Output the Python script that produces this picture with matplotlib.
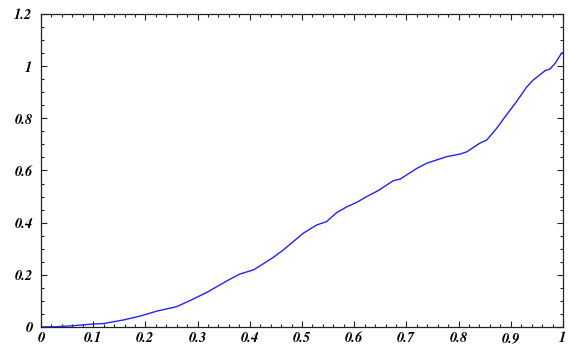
import numpy as np
import matplotlib.pyplot as plt
from matplotlib.ticker import MultipleLocator, FuncFormatter

# curve samples
xs = [0.0, 0.03, 0.062, 0.10, 0.119, 0.158, 0.19, 0.222, 0.26, 0.285, 0.317,
      0.359, 0.381, 0.407, 0.42, 0.445, 0.464, 0.483, 0.502, 0.528, 0.547,
      0.566, 0.586, 0.605, 0.624, 0.646, 0.675, 0.688, 0.72, 0.739, 0.777,
      0.803, 0.816, 0.84, 0.854, 0.873, 0.889, 0.911, 0.93, 0.943, 0.966,
      0.975, 0.985, 0.997, 1.0]
ys = [0.0, 0.001, 0.005, 0.0115, 0.013, 0.027, 0.042, 0.061, 0.078, 0.101, 0.132,
      0.18, 0.203, 0.219, 0.235, 0.267, 0.295, 0.327, 0.359, 0.391, 0.404,
      0.438, 0.461, 0.478, 0.50, 0.523, 0.561, 0.567, 0.608, 0.628, 0.653,
      0.663, 0.672, 0.704, 0.717, 0.762, 0.806, 0.864, 0.919, 0.947, 0.983,
      0.989, 1.011, 1.049, 1.052]

plt.rcParams['font.family'] = ['STIXGeneral', 'DejaVu Serif']
plt.rcParams['font.weight'] = 'bold'
plt.rcParams['font.style'] = 'italic'
plt.rcParams['font.size'] = 10.5

fig = plt.figure(figsize=(5.68, 3.44), dpi=100)
ax = fig.add_axes([41/568, 1 - 327/344, 522/568, 313/344])

ax.plot(xs, ys, '-', color='#2222ff', linewidth=1.0)

ax.set_xlim(0, 1)
ax.set_ylim(0, 1.2)
ax.xaxis.set_major_locator(MultipleLocator(0.1))
ax.xaxis.set_minor_locator(MultipleLocator(0.02))
ax.yaxis.set_major_locator(MultipleLocator(0.2))
ax.yaxis.set_minor_locator(MultipleLocator(0.05))
fmt = FuncFormatter(lambda v, p: '%g' % round(v, 2))
ax.xaxis.set_major_formatter(fmt)
ax.yaxis.set_major_formatter(fmt)

ax.tick_params(which='both', direction='in', top=True, right=True, width=0.8, color='#222222')
ax.tick_params(which='major', length=4.5)
ax.tick_params(which='minor', length=2.5)
ax.tick_params(axis='x', which='major', pad=3)
ax.tick_params(axis='y', which='major', pad=6)
for s in ax.spines.values():
    s.set_linewidth(0.9)
    s.set_color('#222222')

plt.savefig('out.png', dpi=100)
